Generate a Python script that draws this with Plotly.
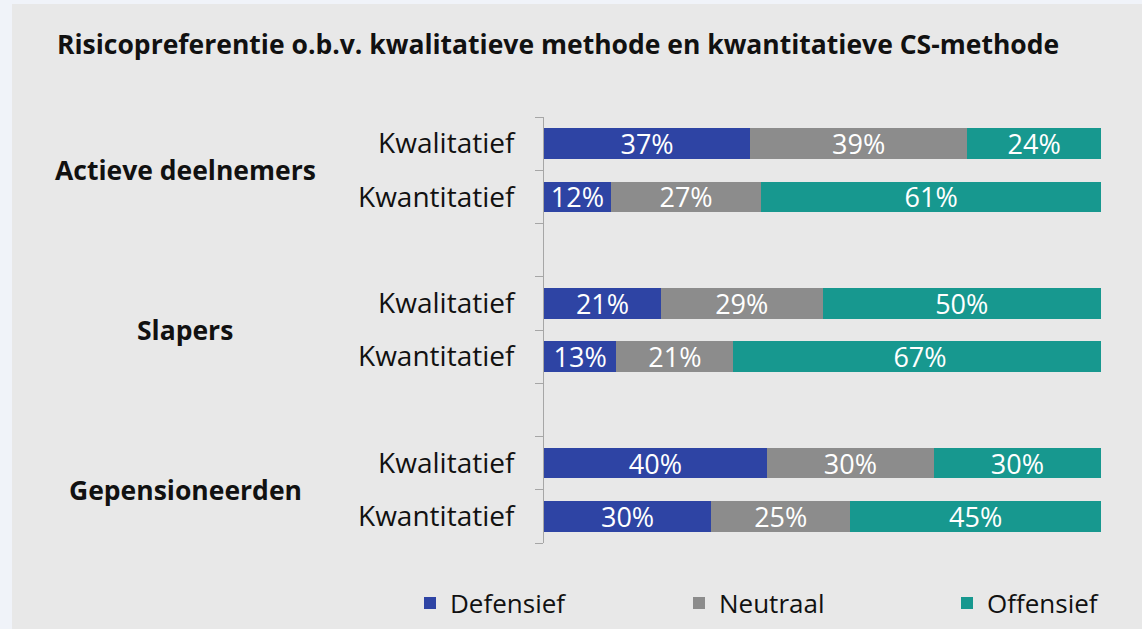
import plotly.graph_objects as go

groups = ["Actieve deelnemers", "Slapers", "Gepensioneerden"]
methods = ["Kwalitatief", "Kwantitatief"]
series = ["Defensief", "Neutraal", "Offensief"]
defensief = [37, 12, 21, 13, 40, 30]
neutraal = [39, 27, 29, 21, 30, 25]
offensief = [24, 61, 50, 67, 30, 45]
colors = ["#2e44a4", "#8c8c8c", "#17988f"]
title = "Risicopreferentie o.b.v. kwalitatieve methode en kwantitatieve CS-methode"

# categories with blank spacer rows between groups
cats = []
bar_cats = []
for gi, g in enumerate(groups):
    for m in methods:
        c = f"{g}|{m}"
        cats.append(c)
        bar_cats.append(c)
    if gi < len(groups) - 1:
        cats.append(" " * (gi + 1))
ticktext = [c.split("|")[1] if "|" in c else "" for c in cats]

FONT = "Open Sans"
W, H = 1142, 629
L, R, T, B = 544, 41, 117, 86
pw, ph = W - L - R, H - T - B

def px_to_paper_x(px):
    return (px - L) / pw

def px_to_paper_y(py):
    return (H - B - py) / ph

legend_names = ["legend", "legend2", "legend3"]
legend_px = [410, 679, 947]

fig = go.Figure()
for name, vals, col, lg in zip(series, [defensief, neutraal, offensief], colors, legend_names):
    fig.add_trace(go.Bar(
        name=name, y=bar_cats, x=vals, orientation="h",
        marker=dict(color=col, line=dict(width=0)),
        text=[f"{v}%" for v in vals], textposition="inside",
        insidetextanchor="middle", constraintext="none",
        textfont=dict(color="white", size=27, family=FONT),
        hoverinfo="skip", legend=lg,
    ))

for g in groups:
    idx = [cats.index(f"{g}|{m}") for m in methods]
    fig.add_annotation(
        text=f"<b>{g}</b>", xref="paper", x=px_to_paper_x(185), xanchor="center",
        yref="y", y=sum(idx) / len(idx), yanchor="middle", showarrow=False,
        font=dict(size=26.5, family=FONT, color="#111111"),
    )

fig.add_annotation(
    text=f"<b>{title}</b>", xref="paper", yref="paper",
    x=px_to_paper_x(55), y=px_to_paper_y(44), xanchor="left", yanchor="middle",
    showarrow=False, font=dict(size=26.5, family=FONT, color="#111111"),
)

fig.add_shape(type="rect", xref="paper", yref="paper", layer="below",
              x0=px_to_paper_x(12), x1=px_to_paper_x(W + 5),
              y0=px_to_paper_y(H + 5), y1=px_to_paper_y(4),
              fillcolor="#e8e8e8", line=dict(width=0))

legend_common = dict(orientation="h", xanchor="left", yanchor="middle",
                     y=px_to_paper_y(603),
                     font=dict(size=26, family=FONT, color="#111111"),
                     bgcolor="rgba(0,0,0,0)")
legends = {lg: dict(x=px_to_paper_x(p), **legend_common)
           for lg, p in zip(legend_names, legend_px)}

fig.update_layout(
    width=W, height=H, barmode="stack", bargap=0.43,
    paper_bgcolor="#f0f3f9", plot_bgcolor="rgba(0,0,0,0)",
    margin=dict(l=L, r=R, t=T, b=B, autoexpand=False),
    font=dict(family=FONT, size=24, color="#111111"),
    xaxis=dict(range=[0, 100], visible=False, fixedrange=True, automargin=False),
    yaxis=dict(
        type="category", categoryorder="array", categoryarray=cats,
        autorange="reversed", tickmode="array", tickvals=cats, ticktext=ticktext,
        tickson="boundaries", ticks="outside", ticklen=8, tickcolor="#a6a6a6",
        showline=True, linecolor="#a6a6a6", linewidth=1, showgrid=False,
        tickfont=dict(size=28, family=FONT, color="#111111"), ticklabelstandoff=23,
        automargin=False,
    ),
    showlegend=True,
    **legends,
)

post = (
    "var css='margin:0;padding:0;overflow:hidden;';"
    "document.documentElement.style.cssText=css;"
    "document.body.style.cssText=css;"
)
fig.write_html("out.html", config={"responsive": False, "displayModeBar": False},
               post_script=post)
